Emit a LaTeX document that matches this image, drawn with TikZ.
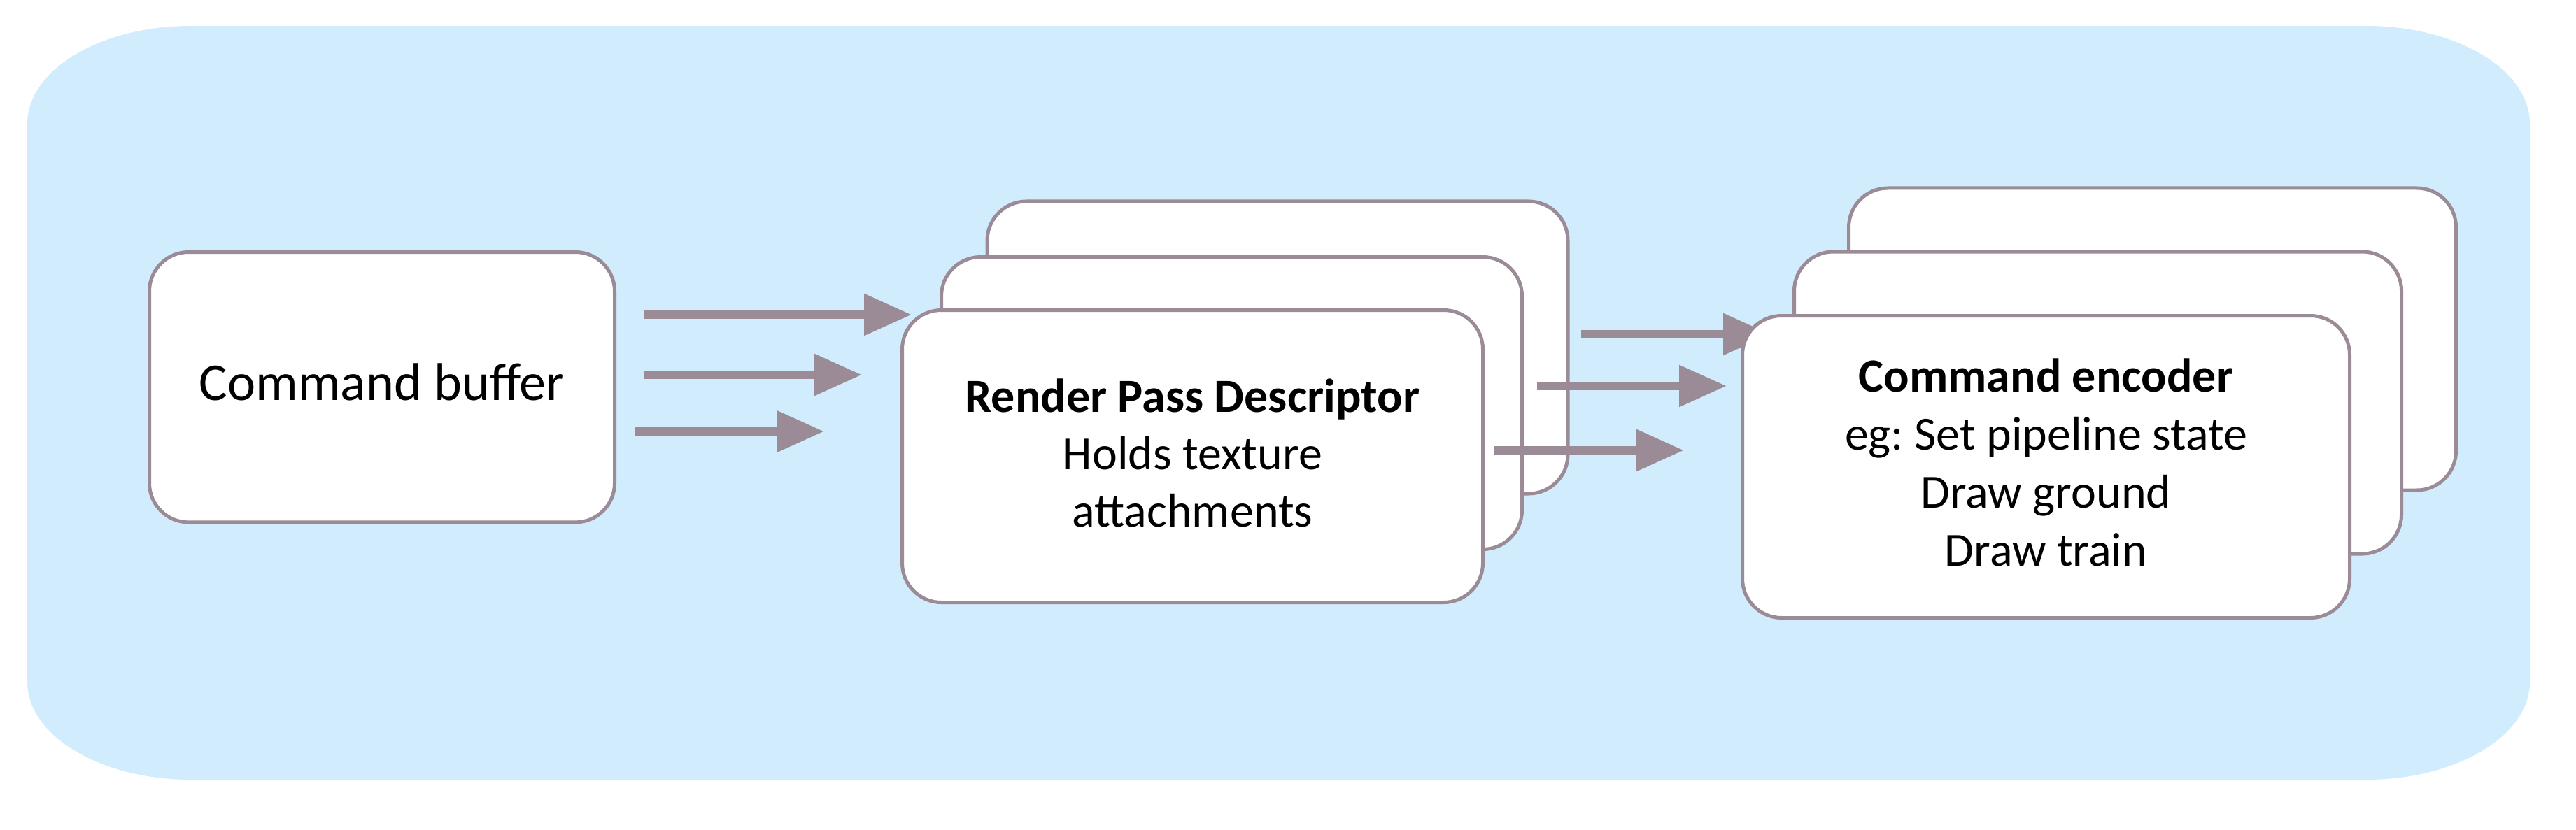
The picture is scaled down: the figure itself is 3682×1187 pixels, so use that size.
\documentclass[tikz,border=0pt]{standalone}
\usepackage{fontspec}
\setmainfont{Carlito}
\usetikzlibrary{arrows.meta}
\definecolor{bgblue}{RGB}{209,236,252}
\definecolor{edgecol}{RGB}{155,139,151}
\frenchspacing
\begin{document}
\begin{tikzpicture}[x=0.25pt,y=-0.25pt,
  box/.style={draw=edgecol, fill=white, line width=1.25pt, rounded corners=14pt, align=center, inner sep=0pt},
  cbbox/.style={box, minimum width=166.25pt, minimum height=96.6pt, text depth=4pt, font=\fontsize{19}{23}\selectfont},
  rpbox/.style={box, minimum width=207.5pt, minimum height=104.5pt, text depth=2.5pt, font=\fontsize{17}{20.5}\selectfont},
  encbox/.style={box, minimum width=217pt, minimum height=108pt, text depth=3pt, font=\fontsize{17}{20.75}\selectfont},
  flow/.style={draw=edgecol, line width=3pt, -{Triangle[length=17pt,width=14.25pt]}}
]
\useasboundingbox (0,0) rectangle (3682,1187);
% background panel with elliptical corners
\fill[bgblue] (273,37) -- (3382,37)
  arc[start angle=90, end angle=0, x radius=58.5pt, y radius=35pt]
  -- (3616,975)
  arc[start angle=0, end angle=-90, x radius=58.5pt, y radius=35pt]
  -- (273,1115)
  arc[start angle=270, end angle=180, x radius=58.5pt, y radius=35pt]
  -- (39,177)
  arc[start angle=180, end angle=90, x radius=58.5pt, y radius=35pt]
  -- cycle;

% command buffer
\node[cbbox] (cb) at (546,553.7) {Command buffer};

% render pass descriptors
\node[rpbox] (rp3) at (1826,497) {};
\node[rpbox] (rp2) at (1760.5,576.5) {};
\node[rpbox] (rp1) at (1704.5,652.5) {\textbf{Render Pass Descriptor}\\Holds texture\\attachments};

% arrows
\coordinate (a1s) at (920,450);  \coordinate (a1e) at (1303,450);
\coordinate (a2s) at (920,536);  \coordinate (a2e) at (1232,536);
\coordinate (a3s) at (907,617);  \coordinate (a3e) at (1178,617);
\coordinate (b1s) at (2260,478); \coordinate (b1e) at (2531,478);
\coordinate (b2s) at (2197,552); \coordinate (b2e) at (2468,552);
\coordinate (b3s) at (2135,644); \coordinate (b3e) at (2407,644);
\draw[flow] (a1s) -- (a1e);
\draw[flow] (a2s) -- (a2e);
\draw[flow] (a3s) -- (a3e);
\draw[flow] (b1s) -- (b1e);
\draw[flow] (b2s) -- (b2e);
\draw[flow] (b3s) -- (b3e);

% command encoders
\node[encbox] (ce3) at (3076.5,485) {};
\node[encbox] (ce2) at (2998.5,576) {};
\node[encbox] (ce1) at (2924.5,667.5) {\textbf{Command encoder}\\eg: Set pipeline state\\Draw ground\\Draw train};
\end{tikzpicture}
\end{document}
